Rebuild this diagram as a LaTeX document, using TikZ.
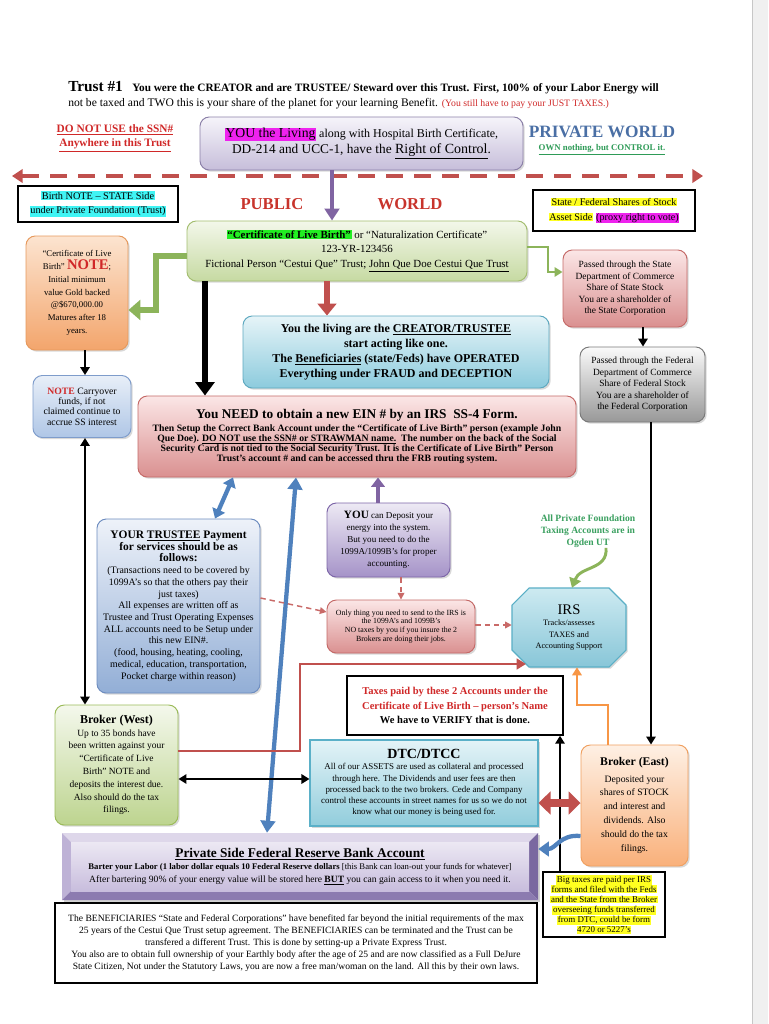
\documentclass[tikz,border=0pt]{standalone}
\usepackage{fontspec}
\setmainfont{Liberation Serif}
\usetikzlibrary{arrows.meta,shadows,calc}
\definecolor{hred}{HTML}{D02828}
\definecolor{pubred}{HTML}{C8342C}
\definecolor{pwblue}{HTML}{4A6FA5}
\definecolor{pwgreen}{HTML}{2E9B57}
\definecolor{dred}{HTML}{C0504D}
\definecolor{lavtop}{HTML}{F6F4FA}\definecolor{lavbot}{HTML}{C6BEDA}\definecolor{lavdraw}{HTML}{8B80A8}
\definecolor{gtop}{HTML}{F3F7EA}\definecolor{gbot}{HTML}{C6DAA2}\definecolor{gdraw}{HTML}{A4BE70}
\definecolor{otop}{HTML}{FCE4D0}\definecolor{obot}{HTML}{F3A56C}\definecolor{odraw}{HTML}{E69A5E}
\definecolor{btop}{HTML}{E8EFF8}\definecolor{bbot}{HTML}{AFC6E6}\definecolor{bdraw}{HTML}{7E9CCB}
\definecolor{ttop}{HTML}{E6F4F8}\definecolor{tbot}{HTML}{8CCBDD}\definecolor{tdraw}{HTML}{5EA9C0}
\definecolor{ptop}{HTML}{FBE6E6}\definecolor{pbot}{HTML}{DA9090}\definecolor{pdraw}{HTML}{C56A68}
\definecolor{grtop}{HTML}{FAFAFA}\definecolor{grbot}{HTML}{989898}\definecolor{grdraw}{HTML}{7A7A7A}
\definecolor{tbtop}{HTML}{EEF2F9}\definecolor{tbbot}{HTML}{92AED6}\definecolor{tbdraw}{HTML}{6E8DC0}
\definecolor{pptop}{HTML}{EDE9F4}\definecolor{ppbot}{HTML}{A593C8}\definecolor{ppdraw}{HTML}{7D66A8}
\definecolor{irstop}{HTML}{CDEAF1}\definecolor{irsbot}{HTML}{88C6D8}\definecolor{irsdraw}{HTML}{5AAFC6}
\definecolor{bwtop}{HTML}{F4F8EC}\definecolor{bwbot}{HTML}{BDD48F}\definecolor{bwdraw}{HTML}{9BBB59}
\definecolor{betop}{HTML}{FEF0E4}\definecolor{bebot}{HTML}{F9B07A}\definecolor{bedraw}{HTML}{F0A060}
\definecolor{dtctop}{HTML}{E4F3F7}\definecolor{dtcbot}{HTML}{91CDDC}\definecolor{dtcdraw}{HTML}{5BB0C8}
\definecolor{hcyan}{HTML}{40F4F4}
\definecolor{hyel}{HTML}{FFFF20}
\definecolor{hmag}{HTML}{EE22EE}
\definecolor{hgreen}{HTML}{22EE22}
\definecolor{barrow}{HTML}{4F81BD}
\definecolor{oline}{HTML}{F79646}
\definecolor{garrow}{HTML}{8CB45A}
\definecolor{ogreen}{HTML}{3BA060}
\definecolor{parrow}{HTML}{8064A2}
\newcommand\fsz[2]{\fontsize{#1}{#2}\selectfont}
\newcommand\hlt[2]{{\setlength{\fboxsep}{0.5pt}\colorbox{#1}{#2}}}
\begin{document}
\begin{tikzpicture}[x=0.75pt,y=-0.75pt,
  sz/.style 2 args={minimum width=#1*0.75pt, minimum height=#2*0.75pt},
  rbox/.style={rounded corners=7pt, draw, line width=0.7pt, align=center, inner sep=1pt,
     drop shadow={opacity=0.3,shadow xshift=1.3pt,shadow yshift=-1.3pt}},
  sqbox/.style={draw=black, line width=0.8pt, fill=white, align=center, inner sep=1pt},
  blk/.style={draw=black, line width=1.6pt, -{Triangle[length=6pt,width=7pt]}},
  blkd/.style={draw=black, line width=1.6pt, {Triangle[length=6pt,width=7pt]}-{Triangle[length=6pt,width=7pt]}},
  dsh/.style={draw=dred!85, line width=1.1pt, dash pattern=on 4pt off 3pt, -{Triangle[length=5pt,width=5pt]}},
  plain/.style={align=center, inner sep=0pt}
]
\useasboundingbox (0,0) rectangle (768,1024);
\fill[white] (0,0) rectangle (768,1024);
\fill[black!6] (753,0) rectangle (768,1024);
\draw[black!22, line width=0.6pt] (752,0) -- (752,1024);

% header
\node[anchor=base west, inner sep=0] (h1) at (68,92) {\bfseries{\fsz{11.5}{12}Trust \#1}\hspace{7pt}\fsz{8.45}{10}You were the CREATOR and are TRUSTEE/ Steward over this Trust. First, 100\% of your Labor Energy will};
\node[anchor=base west, inner sep=0] (h2) at (68,107) {\fsz{8.7}{10}not be taxed and TWO this is your share of the planet for your learning Benefit. {\color{hred}\fsz{7.3}{10}(You still have to pay your JUST TAXES.)}};

\node[plain, font=\bfseries\fsz{8.5}{11}, text=hred] (dnu) at (115,138) {\underline{DO NOT USE the SSN\#}\\ \underline{Anywhere in this Trust}};

\node[rbox, sz={323}{53}, top color=lavtop, bottom color=lavbot, draw=lavdraw] (you) at (361.5,143.5)
 {\fsz{9}{17}\hlt{hmag}{\fsz{10.3}{12}YOU the Living} along with Hospital Birth Certificate,\\ DD-214 and UCC-1, have the {\fsz{10.5}{12}\underline{Right of Control}}.};

\node[plain, font=\bfseries\fsz{13}{13}, text=pwblue] (pw) at (602,132) {PRIVATE WORLD};
\node[plain, font=\bfseries\fsz{6.6}{8}, text=pwgreen] (own) at (602,150) {\underline{OWN nothing, but CONTROL it.}};

% dashed divider
\coordinate (dl) at (12,176);
\coordinate (dr) at (703,176);
\draw[draw=dred, line width=3pt, dash pattern=on 13pt off 8pt, {Triangle[length=8pt,width=10pt]}-{Triangle[length=8pt,width=10pt]}] (dl) -- (dr);

\node[sqbox, sz={160}{36}, font=\fsz{7.7}{11}, drop shadow={opacity=0.35,shadow xshift=1pt,shadow yshift=-1pt}] (bn) at (98,204)
 {\hlt{hcyan}{Birth NOTE – STATE Side}\\ \hlt{hcyan}{under Private Foundation (Trust)}};

\node[plain, font=\bfseries\fsz{12.5}{13}, text=pubred] (pub) at (272,204) {PUBLIC};
\node[plain, font=\bfseries\fsz{12.5}{13}, text=pubred] (wor) at (410,204) {WORLD};

\node[sqbox, sz={162}{41}, font=\fsz{7.6}{11}, drop shadow={opacity=0.35,shadow xshift=1pt,shadow yshift=-1pt}] (sf) at (614,210.5)
 {\hlt{hyel}{State / Federal Shares of Stock}\\ \hlt{hyel}{Asset Side} \hlt{hmag}{(proxy right to vote)}};

% certificate
\node[rbox, sz={340}{60}, top color=gtop, bottom color=gbot, draw=gdraw, font=\fsz{8.2}{10.8}] (cert) at (357,251)
 {\hlt{hgreen}{\bfseries “Certificate of Live Birth”} or “Naturalization Certificate”\\ 123-YR-123456\\ Fictional Person “Cestui Que” Trust; \underline{John Que Doe Cestui Que Trust}};

\node[rbox, sz={102}{114}, top color=otop, bottom color=obot, draw=odraw, font=\fsz{6.6}{9.6}] (orng) at (77,293)
 {“Certificate of Live\\ Birth” {\color{hred}\bfseries\fsz{11}{9.6}NOTE};\\ Initial minimum\\ value Gold backed\\ @\$670,000.00\\ Matures after 18\\ years.};

\node[rbox, sz={98}{62}, top color=btop, bottom color=bbot, draw=bdraw, font=\fsz{7.3}{7.8}] (nte) at (82,406.5)
 {{\color{hred}\bfseries NOTE} Carryover\\ funds, if not\\ claimed continue to\\ accrue SS interest};

\node[rbox, sz={306}{72}, top color=ttop, bottom color=tbot, draw=tdraw, font=\bfseries\fsz{9}{11.2}] (teal) at (396,352)
 {You the living are the \underline{CREATOR/TRUSTEE}\\ start acting like one.\\ The \underline{Beneficiaries} (state/Feds) have OPERATED\\ Everything under FRAUD and DECEPTION};

\node[rbox, sz={124}{77}, top color=ptop, bottom color=pbot, draw=pdraw, font=\fsz{7.1}{8.6}] (stp) at (625,288.5)
 {Passed through the State\\ Department of Commerce\\ Share of State Stock\\ You are a shareholder of\\ the State Corporation};

\node[rbox, sz={125}{75}, top color=grtop, bottom color=grbot, draw=grdraw, font=\fsz{7.1}{8.6}] (fedg) at (642.5,384.5)
 {Passed through the Federal\\ Department of Commerce\\ Share of Federal Stock\\ You are a shareholder of\\ the Federal Corporation};

\node[rbox, sz={438}{81}, top color=ptop, bottom color=pbot, draw=pdraw, font=\bfseries\fsz{7.3}{7.6}] (ein) at (357,436.5)
 {{\fsz{10}{12}You NEED to obtain a new EIN \# by an IRS\ \ SS-4 Form.}\\[2pt]
  Then Setup the Correct Bank Account under the “Certificate of Live Birth” person (example John\\
  Que Doe). \underline{DO NOT use the SSN\# or STRAWMAN name.}\ \ The number on the back of the Social\\
  Security Card is not tied to the Social Security Trust. It is the Certificate of Live Birth” Person\\
  Trust’s account \# and can be accessed thru the FRB routing system.};

\node[rbox, sz={163}{174}, top color=tbtop, bottom color=tbbot, draw=tbdraw, font=\fsz{7.4}{8.8}] (trus) at (178.5,606)
 {{\bfseries\fsz{8.6}{10.6}YOUR \underline{TRUSTEE} Payment}\\ {\bfseries\fsz{8.6}{10.6}for services should be as}\\ {\bfseries\fsz{8.6}{10.6}follows:}\\
  (Transactions need to be covered by\\ 1099A’s so that the others pay their\\ just taxes)\\ All expenses are written off as\\
  Trustee and Trust Operating Expenses\\ ALL accounts need to be Setup under\\ this new EIN\#.\\
  (food, housing, heating, cooling,\\ medical, education, transportation,\\ Pocket charge within reason)};

\node[rbox, sz={123}{74}, top color=pptop, bottom color=ppbot, draw=ppdraw, font=\fsz{6.8}{9}] (dep) at (388.5,540)
 {{\bfseries\fsz{8.4}{9}YOU} can Deposit your\\ energy into the system.\\ But you need to do the\\ 1099A/1099B’s for proper\\ accounting.};

\node[rbox, sz={148}{53}, top color=ptop, bottom color=pbot, draw=pdraw, font=\fsz{5.9}{6.6}] (only) at (401,626.5)
 {Only thing you need to send to the IRS is\\ the 1099A’s and 1099B’s\\ NO taxes by you if you insure the 2\\ Brokers are doing their jobs.};

% IRS octagon
\shade[top color=irstop, bottom color=irsbot, draw=irsdraw, line width=0.8pt, drop shadow={opacity=0.3,shadow xshift=1.3pt,shadow yshift=-1.3pt}]
  (512,605) -- (529,588) -- (609,588) -- (626,605) -- (626,650) -- (609,667) -- (529,667) -- (512,650) -- cycle;
\node[plain, sz={114}{79}, font=\fsz{6.2}{8.6}] (irs) at (569,627.5)
 {{\fsz{11}{12}IRS}\\ Tracks/assesses\\ TAXES and\\ Accounting Support};
\coordinate (irsbl) at (526,664);

\node[plain, font=\bfseries\fsz{7.2}{9.2}, text=ogreen] (ogden) at (588,531) {All Private Foundation\\ Taxing Accounts are in\\ Ogden UT};

\node[sqbox, sz={216}{59}, line width=1.1pt, font=\bfseries\fsz{7.9}{10.8}] (tax) at (455,705.5)
 {{\color{hred}Taxes paid by these 2 Accounts under the}\\ {\color{hred}Certificate of Live Birth – person’s Name}\\ We have to VERIFY that is done.};

\node[rbox, sz={123}{120}, top color=bwtop, bottom color=bwbot, draw=bwdraw, font=\fsz{7.1}{9.6}] (bw) at (116.5,765)
 {{\bfseries\fsz{9}{10}Broker (West)}\\ Up to 35 bonds have\\ been written against your\\ “Certificate of Live\\ Birth” NOTE and\\ deposits the interest due.\\ Also should do the tax\\ filings.};

\node[draw=dtcdraw, line width=0.8pt, top color=dtctop, bottom color=dtcbot, align=center, inner sep=1pt, sz={228}{86}, font=\fsz{6.7}{8.4},
  drop shadow={opacity=0.3,shadow xshift=1.3pt,shadow yshift=-1.3pt}] (dtc) at (424,783)
 {{\bfseries\fsz{10.5}{12}DTC/DTCC}\\ All of our ASSETS\ are used as collateral and processed\\ through here. The Dividends and user fees are then\\ processed back to the two brokers. Cede and Company\\ control these accounts in street names for us so we do not\\ know what our money is being used for.};

\node[rbox, sz={107}{121}, top color=betop, bottom color=bebot, draw=bedraw, font=\fsz{7.3}{10.4}] (be) at (634.5,805.5)
 {{\bfseries\fsz{8.8}{12}Broker (East)}\\[2pt] Deposited your\\ shares of STOCK\\ and interest and\\ dividends. Also\\ should do the tax\\ filings.};

% FRB beveled box
\node[sz={476}{67}, fill=white, inner sep=0pt, drop shadow={opacity=0.35,shadow xshift=1.3pt,shadow yshift=-1.3pt}] (frb) at (300,866.5) {};
\fill[color={rgb,255:red,222;green,215;blue,234}] (62,833) -- (538,833) -- (529,842) -- (71,842) -- cycle;
\fill[color={rgb,255:red,190;green,178;blue,214}] (62,833) -- (71,842) -- (71,891) -- (62,900) -- cycle;
\fill[color={rgb,255:red,122;green,104;blue,160}] (538,833) -- (538,900) -- (529,891) -- (529,842) -- cycle;
\fill[color={rgb,255:red,140;green,123;blue,176}] (62,900) -- (538,900) -- (529,891) -- (71,891) -- cycle;
\shade[top color={rgb,255:red,236;green,232;blue,243}, bottom color={rgb,255:red,200;green,189;blue,221}] (71,842) rectangle (529,891);
\node[plain, font=\fsz{7.2}{9.4}] (frbt) at (frb.center)
 {{\bfseries\fsz{10}{12}\underline{Private Side Federal Reserve Bank Account}}\\
  {\fsz{6.5}{8.6}\textbf{Barter your Labor (1 labor dollar equals 10 Federal Reserve dollars} [this Bank can loan-out your funds for whatever]}\\
  After bartering 90\% of your energy value will be stored here \textbf{\underline{BUT}} you can gain access to it when you need it.};

\node[sqbox, sz={482}{80}, font=\fsz{7.2}{8.9}] (ben) at (296,943)
 {The BENEFICIARIES “State and Federal Corporations” have benefited far beyond the initial requirements of the max\\
  25 years of the Cestui Que Trust setup agreement. The BENEFICIARIES can be terminated and the Trust can be\\
  transfered a different Trust. This is done by setting-up a Private Express Trust.\\
  You also are to obtain full ownership of your Earthly body after the age of 25 and are now classified as a Full DeJure\\
  State Citizen, Not under the Statutory Laws, you are now a free man/woman on the land. All this by their own laws.};

\node[sqbox, sz={122}{65}, font=\fsz{6.7}{7.6}] (big) at (604,904.5)
 {\hlt{hyel}{Big taxes are paid per IRS}\\ \hlt{hyel}{forms and filed with the Feds}\\ \hlt{hyel}{and the State from the Broker}\\ \hlt{hyel}{overseeing funds transferred}\\ \hlt{hyel}{from DTC, could be form}\\ \hlt{hyel}{4720 or 5227’s}};

% ---------- connectors ----------
\coordinate (xa) at (332,0);
\draw[draw=parrow, line width=3pt, -{Triangle[length=9pt,width=11pt]}] (you.south -| xa) -- (cert.north -| xa);

\coordinate (g1) at (156,256); \coordinate (g2) at (156,310);
\draw[draw=garrow, line width=5pt, -{Triangle[length=9pt,width=15pt]}] (cert.west |- g1) -- (g1) -- (g2) -- (orng.east |- g2);

\coordinate (g3) at (548,247); \coordinate (g4) at (548,272);
\draw[draw=garrow, line width=2.2pt, -{Triangle[length=6pt,width=7pt]}] (cert.east |- g3) -- (g3) -- (g4) -- (stp.west |- g4);

\coordinate (k1) at (85,0);
\draw[blk] (orng.south -| k1) -- (nte.north -| k1);
\draw[blkd] (nte.south -| k1) -- (bw.north -| k1);

\coordinate (k2) at (205,0);
\draw[draw=black, line width=4pt, -{Triangle[length=10pt,width=14pt]}] (cert.south -| k2) -- (ein.north -| k2);

\coordinate (k3) at (327,0);
\draw[draw=dred, line width=4pt, -{Triangle[length=9pt,width=14pt]}] (cert.south -| k3) -- (teal.north -| k3);

\coordinate (k4) at (643,0);
\draw[blk] (stp.south -| k4) -- (fedg.north -| k4);
\coordinate (k5) at (651,0);
\draw[blk] (fedg.south -| k5) -- (be.north -| k5);

\coordinate (k6) at (233,0); \coordinate (k7) at (215,0);
\draw[draw=barrow, line width=3.2pt, {Triangle[length=7pt,width=10pt]}-{Triangle[length=7pt,width=10pt]}] (ein.south -| k6) -- (trus.north -| k7);

\coordinate (k8) at (378,0);
\draw[draw=parrow, line width=3pt, -{Triangle[length=7pt,width=10pt]}] (dep.north -| k8) -- (ein.south -| k8);

\coordinate (k9) at (296,0); \coordinate (k10) at (267,0);
\draw[draw=barrow, line width=3.2pt, {Triangle[length=9pt,width=11pt]}-{Triangle[length=9pt,width=11pt]}] (ein.south -| k9) -- (frb.north -| k10);

\coordinate (k11) at (401,0);
\draw[dsh] (dep.south -| k11) -- (only.north -| k11);
\coordinate (k12) at (0,598); \coordinate (k13) at (0,612);
\draw[dsh] (trus.east |- k12) -- (only.west |- k13);
\coordinate (k14) at (0,625);
\draw[dsh] (only.east |- k14) -- (irs.west |- k14);

\coordinate (k15) at (606,0); \coordinate (k16) at (572,0);
\draw[draw=garrow, line width=2.2pt, -{Triangle[length=7pt,width=9pt]}] (ogden.south -| k15) .. controls (608,570) and (580,566) .. (irs.north -| k16);

\coordinate (r1) at (300,751); \coordinate (r2) at (300,664);
\draw[draw=dred, line width=2pt, -{Triangle[length=7pt,width=8pt]}] (bw.east |- r1) -- (r1) -- (r2) -- (irsbl);

\coordinate (o1) at (608,705); \coordinate (o2) at (577,705);
\draw[draw=oline, line width=2pt, -{Triangle[length=6pt,width=7pt]}] (be.north -| o1) -- (o1) -- (o2) -- (irs.south -| o2);

\coordinate (k23) at (560,0);
\draw[blk] (big.north -| k23) -- (tax.south -| k23);

\coordinate (k24) at (0,779);
\draw[blkd] (bw.east |- k24) -- (dtc.west |- k24);

\coordinate (k25) at (0,803);
\draw[draw=dred, line width=6pt, {Triangle[length=9pt,width=17pt]}-{Triangle[length=9pt,width=17pt]}] (dtc.east |- k25) -- (be.west |- k25);

\coordinate (k26) at (0,836); \coordinate (k27) at (0,849);
\draw[draw=barrow, line width=3.2pt, -{Triangle[length=8pt,width=11pt]}] (be.west |- k26) .. controls (560,834) and (556,849) .. (frb.east |- k27);

\end{tikzpicture}
\end{document}
